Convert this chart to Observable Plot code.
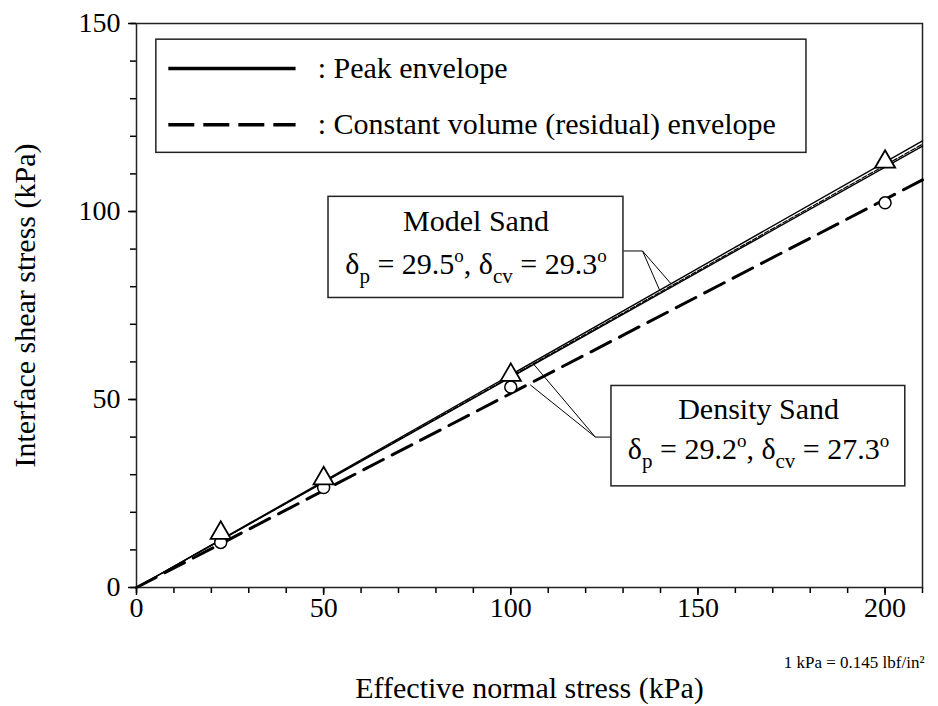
<!DOCTYPE html>
<html>
<head>
<meta charset="utf-8">
<script src="https://cdn.jsdelivr.net/npm/d3@7"></script>
<script src="https://cdn.jsdelivr.net/npm/@observablehq/plot@0.6"></script>
<style>
  html, body { margin: 0; padding: 0; background: #fff; }
  #chart { width: 938px; height: 706px; }
  #chart svg, #chart svg text { font-family: "Liberation Serif", "Times New Roman", serif !important; }
</style>
</head>
<body>
<div id="chart"></div>
<script>
// ---- Data ----
const normalStress = [22.5, 50, 100, 200];            // kPa
const peakShear    = [14.5, 29.0, 56.5, 113.2];        // triangles
const cvShear      = [12.0, 26.6, 53.3, 102.3];        // circles

const envelopeX          = [0, 210];
const modelPeakEnvelope   = [0, 118.8];   // δp = 29.5°
const modelCvEnvelope     = [0, 117.9];   // δcv = 29.3°
const densityPeakEnvelope = [0, 117.4];   // δp = 29.2°
const densityCvEnvelope   = [0, 108.4];   // δcv = 27.3°

const xMajorTicks = [0, 50, 100, 150, 200];
const xMinorTicks = [0,10,20,30,40,50,60,70,80,90,100,110,120,130,140,150,160,170,180,190,200,210];
const yMajorTicks = [0, 50, 100, 150];
const yMinorTicks = [0,10,20,30,40,50,60,70,80,90,100,110,120,130,140,150];

const legendLabels = [": Peak envelope", ": Constant volume (residual) envelope"];
const modelLabel   = ["Model Sand", "δ_p = 29.5^o, δ_cv = 29.3^o"];
const densityLabel = ["Density Sand", "δ_p = 29.2^o, δ_cv = 27.3^o"];

// ---- Build tables ----
const points = normalStress.flatMap((s, i) => [
  {x: s, y: peakShear[i], kind: "peak"},
  {x: s, y: cvShear[i], kind: "cv"}
]);
const envRows = (ys, name) => envelopeX.map((x, i) => ({x, y: ys[i], name}));
const solidEnv = [...envRows(modelPeakEnvelope, "mp"), ...envRows(densityPeakEnvelope, "dp")];
const modelCv = envRows(modelCvEnvelope, "mcv");
const densityCv = envRows(densityCvEnvelope, "dcv");

// annotation boxes (data coordinates)
const boxes = [
  {x1: 5.3, x2: 179.0, y1: 115.6, y2: 145.7},    // legend
  {x1: 51.3, x2: 130.1, y1: 77.0, y2: 103.9},    // model sand
  {x1: 126.9, x2: 205.4, y1: 26.9, y2: 53.6}     // density sand
];
const legendSamples = [
  {x1: 8.5, x2: 42.5, y: 138.0, dash: null},
  {x1: 8.5, x2: 42.5, y: 123.1, dash: "26,9"}
];
const leaders = [
  {x1: 130.1, y1: 89.5, x2: 135.2, y2: 89.5},
  {x1: 135.2, y1: 89.5, x2: 139.8, y2: 79.0},
  {x1: 135.2, y1: 89.5, x2: 142.8, y2: 80.8},
  {x1: 126.9, y1: 40.0, x2: 122.6, y2: 40.0},
  {x1: 122.6, y1: 40.0, x2: 106.1, y2: 59.4},
  {x1: 122.6, y1: 40.0, x2: 105.2, y2: 53.9}
];
const texts = [
  {x: 48.4, y: 138.0, t: legendLabels[0], anchor: "start"},
  {x: 48.4, y: 123.1, t: legendLabels[1], anchor: "start"},
  {x: 90.7, y: 97.3, t: modelLabel[0], anchor: "middle"},
  {x: 90.7, y: 86.0, t: modelLabel[1], anchor: "middle"},
  {x: 166.2, y: 47.4, t: densityLabel[0], anchor: "middle"},
  {x: 166.2, y: 36.8, t: densityLabel[1], anchor: "middle"}
];

const FONT = "Liberation Serif";

const plot = Plot.plot({
  width: 938,
  height: 706,
  marginLeft: 136,
  marginRight: 16,
  marginTop: 23,
  marginBottom: 119,
  style: {fontFamily: FONT, background: "#fff", color: "#000", overflow: "visible"},
  x: {domain: [0, 210]},
  y: {domain: [0, 150]},
  marks: [
    // minor ticks
    Plot.axisX({ticks: xMinorTicks, tickSize: 6, tickFormat: () => "", label: null, strokeWidth: 1.5}),
    Plot.axisY({ticks: yMinorTicks, tickSize: 6, tickFormat: () => "", label: null, strokeWidth: 1.5}),
    // major ticks + labels
    Plot.axisX({ticks: xMajorTicks, tickSize: 8, tickPadding: 2, fontSize: 28, fontFamily: FONT, label: null, strokeWidth: 1.5}),
    Plot.axisY({ticks: yMajorTicks, tickSize: 8, tickPadding: 8, fontSize: 28, fontFamily: FONT, label: null, strokeWidth: 1.5}),
    Plot.frame({stroke: "#222", strokeWidth: 1.5}),
    // envelopes
    Plot.line(densityCv, {x: "x", y: "y", stroke: "#000", strokeWidth: 3, strokeDasharray: "22,10"}),
    Plot.line(solidEnv, {x: "x", y: "y", z: "name", stroke: "#000", strokeWidth: 1.4}),
    Plot.line(modelCv, {x: "x", y: "y", stroke: "#000", strokeWidth: 1.2, strokeDasharray: "5,2"}),
    // data points
    Plot.dot(points.filter(d => d.kind === "cv"), {x: "x", y: "y", r: 6, fill: "#fff", stroke: "#000", strokeWidth: 1.5}),
    Plot.dot(points.filter(d => d.kind === "peak"), {x: "x", y: "y", symbol: "triangle", r: 7.5, fill: "#fff", stroke: "#000", strokeWidth: 1.8}),
    // leaders
    Plot.link(leaders, {x1: "x1", y1: "y1", x2: "x2", y2: "y2", stroke: "#000", strokeWidth: 1}),
    // boxes
    Plot.rect(boxes, {x1: "x1", x2: "x2", y1: "y1", y2: "y2", fill: "#fff", stroke: "#222", strokeWidth: 1.5}),
    // legend samples
    Plot.link(legendSamples.filter(d => !d.dash), {x1: "x1", x2: "x2", y1: "y", y2: "y", stroke: "#000", strokeWidth: 3.5}),
    Plot.link(legendSamples.filter(d => d.dash), {x1: "x1", x2: "x2", y1: "y", y2: "y", stroke: "#000", strokeWidth: 3.5, strokeDasharray: "26,9"}),
    // texts
    Plot.text(texts.filter(d => d.anchor === "start"), {x: "x", y: "y", text: "t", textAnchor: "start", fontSize: 30, fontFamily: FONT, fill: "#000"}),
    Plot.text(texts.filter(d => d.anchor === "middle"), {x: "x", y: "y", text: "t", textAnchor: "middle", fontSize: 30, fontFamily: FONT, fill: "#000"}),
    // axis titles and note
    Plot.text(["Effective normal stress (kPa)"], {frameAnchor: "bottom", lineAnchor: "middle", dy: 101, fontSize: 30, fontFamily: FONT, fill: "#000"}),
    Plot.text(["Interface shear stress (kPa)"], {frameAnchor: "left", textAnchor: "middle", lineAnchor: "middle", dx: -111, rotate: -90, fontSize: 30, fontFamily: FONT, fill: "#000"}),
    Plot.text(["1 kPa = 0.145 lbf/in²"], {frameAnchor: "bottom-right", textAnchor: "end", lineAnchor: "middle", dy: 75, dx: 2, fontSize: 17, fontFamily: FONT, fill: "#000"})
  ]
});

// Turn "_x" into subscripts and "^x" into superscripts
d3.select(plot).selectAll("text").each(function() {
  const el = this;
  const txt = el.textContent;
  if (!/[_^]/.test(txt) || el.querySelector("tspan")) return;
  const parts = txt.split(/([_^][a-z]+)/).filter(p => p);
  el.textContent = "";
  const sel = d3.select(el);
  let pendingDy = 0;
  parts.forEach(p => {
    if (p[0] === "_") {
      sel.append("tspan").attr("dy", 9 + pendingDy).attr("font-size", 21).text(p.slice(1));
      pendingDy = -9;
    } else if (p[0] === "^") {
      sel.append("tspan").attr("dy", -12 + pendingDy).attr("font-size", 19).text(p.slice(1));
      pendingDy = 12;
    } else {
      const t = sel.append("tspan").text(p);
      if (pendingDy) t.attr("dy", pendingDy);
      pendingDy = 0;
    }
  });
});
d3.select(plot).attr("font-family", FONT);

document.getElementById("chart").appendChild(plot);
</script>
</body>
</html>
